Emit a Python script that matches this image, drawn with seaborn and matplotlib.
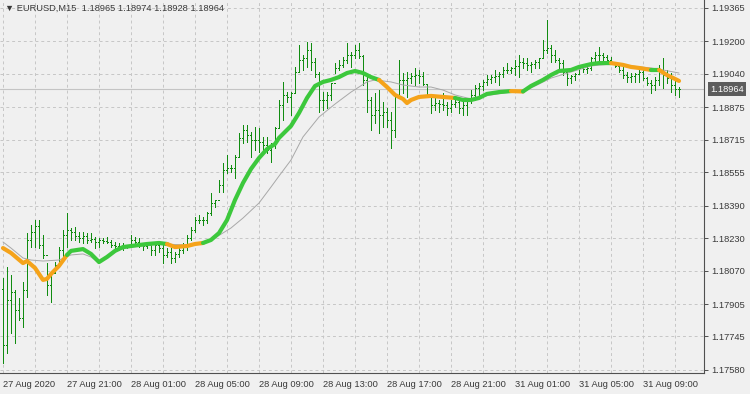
import numpy as np
import pandas as pd
import matplotlib
matplotlib.use("Agg")
import matplotlib.pyplot as plt
import seaborn as sns

# ---------------- data (EURUSD M15) ----------------
high = [
1.18033, 1.18088, 1.18048, 1.17974, 1.17935, 1.18014, 1.18255, 1.18295, 1.18319, 1.18319,
1.18245, 1.18107, 1.18058, 1.18112, 1.18186, 1.18270, 1.18354, 1.18280, 1.18285, 1.18260,
1.18260, 1.18255, 1.18255, 1.18236, 1.18231, 1.18231, 1.18236, 1.18221, 1.18211, 1.18206,
1.18206, 1.18196, 1.18245, 1.18236, 1.18231, 1.18206, 1.18211, 1.18206, 1.18211, 1.18211,
1.18206, 1.18181, 1.18181, 1.18162, 1.18181, 1.18206, 1.18245, 1.18285, 1.18334, 1.18344,
1.18334, 1.18359, 1.18453, 1.18418, 1.18517, 1.18600, 1.18640, 1.18591, 1.18640, 1.18748,
1.18788, 1.18788, 1.18753, 1.18778, 1.18773, 1.18729, 1.18729, 1.18699, 1.18778, 1.18911,
1.19000, 1.18950, 1.18950, 1.19074, 1.19182, 1.19133, 1.19197, 1.19192, 1.19118, 1.19049,
1.18950, 1.18950, 1.18995, 1.19093, 1.19108, 1.19123, 1.19192, 1.19148, 1.19182, 1.19192,
1.19133, 1.19024, 1.18926, 1.18945, 1.18960, 1.18901, 1.18872, 1.18852, 1.18945, 1.19108,
1.19044, 1.19049, 1.19044, 1.19069, 1.19059, 1.19049, 1.18985, 1.18936, 1.18921, 1.18911,
1.18945, 1.18901, 1.18911, 1.18926, 1.18921, 1.18911, 1.18921, 1.18960, 1.18985, 1.18995,
1.19010, 1.19034, 1.19034, 1.19059, 1.19049, 1.19074, 1.19093, 1.19074, 1.19108, 1.19133,
1.19118, 1.19118, 1.19098, 1.19108, 1.19118, 1.19207, 1.19305, 1.19182, 1.19158, 1.19118,
1.19108, 1.19059, 1.19034, 1.19044, 1.19084, 1.19084, 1.19074, 1.19123, 1.19148, 1.19172,
1.19143, 1.19133, 1.19123, 1.19098, 1.19084, 1.19074, 1.19049, 1.19044, 1.19044, 1.19059,
1.19069, 1.19024, 1.19010, 1.19024, 1.19084, 1.19118, 1.19059, 1.19044, 1.19019, 1.18974]

low = [
1.17614, 1.17664, 1.17762, 1.17713, 1.17826, 1.17792, 1.17940, 1.18186, 1.18186, 1.18181,
1.18132, 1.17950, 1.17915, 1.18058, 1.18107, 1.18137, 1.18186, 1.18221, 1.18221, 1.18211,
1.18206, 1.18206, 1.18211, 1.18181, 1.18186, 1.18206, 1.18206, 1.18186, 1.18181, 1.18171,
1.18171, 1.18181, 1.18186, 1.18196, 1.18186, 1.18171, 1.18181, 1.18147, 1.18147, 1.18162,
1.18107, 1.18137, 1.18107, 1.18112, 1.18137, 1.18157, 1.18171, 1.18221, 1.18260, 1.18305,
1.18295, 1.18305, 1.18344, 1.18384, 1.18457, 1.18457, 1.18551, 1.18556, 1.18527, 1.18630,
1.18699, 1.18704, 1.18630, 1.18665, 1.18655, 1.18665, 1.18650, 1.18605, 1.18674, 1.18778,
1.18812, 1.18901, 1.18837, 1.18950, 1.19049, 1.19059, 1.19074, 1.19059, 1.19024, 1.18852,
1.18862, 1.18872, 1.18911, 1.19044, 1.19059, 1.19074, 1.19093, 1.19074, 1.19118, 1.19118,
1.18985, 1.18852, 1.18763, 1.18798, 1.18748, 1.18778, 1.18778, 1.18674, 1.18729, 1.18926,
1.18945, 1.18926, 1.18995, 1.18985, 1.18995, 1.18985, 1.18926, 1.18847, 1.18862, 1.18852,
1.18862, 1.18837, 1.18852, 1.18876, 1.18847, 1.18837, 1.18837, 1.18896, 1.18911, 1.18936,
1.18960, 1.18985, 1.18995, 1.19000, 1.18985, 1.19024, 1.19044, 1.19044, 1.19034, 1.19024,
1.19069, 1.19059, 1.19049, 1.19069, 1.19069, 1.19118, 1.19143, 1.19098, 1.19098, 1.19069,
1.19034, 1.18985, 1.18995, 1.19010, 1.19044, 1.19049, 1.19044, 1.19059, 1.19093, 1.19108,
1.19098, 1.19093, 1.19093, 1.19074, 1.19049, 1.19019, 1.19000, 1.19000, 1.19000, 1.19000,
1.19010, 1.18985, 1.18945, 1.18960, 1.18985, 1.18970, 1.18995, 1.18950, 1.18936, 1.18928]

close = [
1.17703, 1.17925, 1.17964, 1.17876, 1.17836, 1.17974, 1.18221, 1.18260, 1.18290, 1.18196,
1.18147, 1.17999, 1.18058, 1.18098, 1.18171, 1.18245, 1.18270, 1.18260, 1.18240, 1.18231,
1.18240, 1.18221, 1.18226, 1.18211, 1.18221, 1.18216, 1.18211, 1.18196, 1.18191, 1.18186,
1.18191, 1.18191, 1.18221, 1.18211, 1.18196, 1.18191, 1.18196, 1.18171, 1.18196, 1.18181,
1.18147, 1.18162, 1.18132, 1.18152, 1.18171, 1.18196, 1.18231, 1.18270, 1.18319, 1.18319,
1.18319, 1.18354, 1.18403, 1.18418, 1.18492, 1.18566, 1.18576, 1.18576, 1.18630, 1.18724,
1.18763, 1.18738, 1.18714, 1.18714, 1.18704, 1.18689, 1.18665, 1.18689, 1.18773, 1.18886,
1.18936, 1.18926, 1.18945, 1.19049, 1.19108, 1.19118, 1.19158, 1.19098, 1.19039, 1.18911,
1.18911, 1.18936, 1.18995, 1.19069, 1.19084, 1.19108, 1.19133, 1.19133, 1.19158, 1.19128,
1.19010, 1.18911, 1.18837, 1.18862, 1.18837, 1.18852, 1.18812, 1.18763, 1.18936, 1.19010,
1.19010, 1.19019, 1.19029, 1.19034, 1.19029, 1.18990, 1.18936, 1.18886, 1.18896, 1.18891,
1.18886, 1.18872, 1.18891, 1.18901, 1.18872, 1.18886, 1.18911, 1.18936, 1.18970, 1.18980,
1.19000, 1.19015, 1.19024, 1.19029, 1.19039, 1.19059, 1.19059, 1.19069, 1.19079, 1.19098,
1.19093, 1.19084, 1.19088, 1.19098, 1.19118, 1.19158, 1.19167, 1.19133, 1.19108, 1.19093,
1.19049, 1.19019, 1.19029, 1.19039, 1.19069, 1.19064, 1.19069, 1.19118, 1.19133, 1.19133,
1.19123, 1.19108, 1.19098, 1.19079, 1.19059, 1.19034, 1.19024, 1.19029, 1.19039, 1.19049,
1.19019, 1.18995, 1.18985, 1.19010, 1.19059, 1.19034, 1.19019, 1.18985, 1.18965, 1.18964]

first_open = 1.17980

# thick coloured moving average (bar index, value)
ma_idx = [0, 2, 5, 6, 8, 10, 11, 12, 14, 16, 17, 20, 22, 24, 26, 28, 30, 32, 36, 39,
          41, 43, 46, 48, 50, 52, 54, 56, 58, 60, 62, 64, 66, 68, 69, 72, 74, 76, 78, 80,
          82, 84, 86, 88, 90, 92, 94, 96, 98, 100, 101, 102, 104, 107, 110, 113, 115, 117, 119, 121,
          124, 127, 130, 132, 135, 137, 139, 142, 144, 147, 149, 152, 155, 157, 159, 162, 164, 166, 168, 169]
ma_val = [1.18181, 1.18157, 1.18107, 1.18117, 1.18083, 1.18024, 1.18029, 1.18053, 1.18093, 1.18147,
          1.18167, 1.18176, 1.18152, 1.18112, 1.18137, 1.18167, 1.18186, 1.18191, 1.18201, 1.18206,
          1.18201, 1.18186, 1.18191, 1.18201, 1.18206, 1.18221, 1.18255, 1.18319, 1.18418, 1.18502,
          1.18571, 1.18625, 1.18669, 1.18694, 1.18724, 1.18783, 1.18847, 1.18921, 1.18980, 1.19000,
          1.19010, 1.19024, 1.19044, 1.19054, 1.19044, 1.19024, 1.19010, 1.18975, 1.18936, 1.18916,
          1.18896, 1.18911, 1.18926, 1.18931, 1.18926, 1.18921, 1.18911, 1.18911, 1.18921, 1.18941,
          1.18950, 1.18955, 1.18953, 1.18980, 1.19010, 1.19034, 1.19054, 1.19059, 1.19074, 1.19088,
          1.19093, 1.19093, 1.19084, 1.19074, 1.19069, 1.19059, 1.19059, 1.19034, 1.19015, 1.19005]
# bar-index spans where the thick average is drawn orange
orange_spans = [(0, 16), (41, 50), (94, 113), (127, 130), (152, 162), (164, 169)]

# thin grey (slow) moving average
gray_idx = [0, 2, 5, 7, 10, 14, 17, 20, 22, 24, 26, 28, 32, 40, 46, 50, 53, 57, 60, 64,
            67, 69, 72, 75, 79, 83, 87, 91, 93, 97, 100, 104, 107, 110, 113, 117, 122, 127, 132, 137,
            142, 147, 152, 157, 162, 165, 169]
gray_val = [1.18211, 1.18181, 1.18132, 1.18122, 1.18117, 1.18122, 1.18147, 1.18152, 1.18137, 1.18107,
            1.18137, 1.18167, 1.18186, 1.18201, 1.18196, 1.18206, 1.18231, 1.18280, 1.18329, 1.18403,
            1.18482, 1.18536, 1.18615, 1.18729, 1.18827, 1.18891, 1.18950, 1.19000, 1.19010, 1.19000,
            1.18985, 1.18975, 1.18975, 1.18960, 1.18936, 1.18916, 1.18936, 1.18950, 1.18970, 1.19019,
            1.19049, 1.19079, 1.19088, 1.19079, 1.19069, 1.19059, 1.19044]

price_ticks = [1.19365, 1.19200, 1.19040, 1.18875, 1.18715, 1.18555, 1.18390,
               1.18230, 1.18070, 1.17905, 1.17745, 1.17580]
time_tick_idx = [0, 16, 32, 48, 64, 80, 96, 112, 128, 144, 160]
time_labels = ["27 Aug 2020", "27 Aug 21:00", "28 Aug 01:00", "28 Aug 05:00",
               "28 Aug 09:00", "28 Aug 13:00", "28 Aug 17:00", "28 Aug 21:00",
               "31 Aug 01:00", "31 Aug 05:00", "31 Aug 09:00"]
title = "\u25bc EURUSD,M15  1.18965 1.18974 1.18928 1.18964"
last_price = 1.18964

# ---------------- drawing ----------------
sns.set_style("white")
plt.rcParams['font.family'] = ['Liberation Sans', 'DejaVu Sans']

BG = '#f0f0f0'
BAR = '#118c11'
GREEN = '#3cc83c'
ORANGE = '#f5a31a'
TXT = '#3a3a3a'
FS = 6.7

W, H = 750, 394
fig = plt.figure(figsize=(W / 100, H / 100), dpi=100, facecolor=BG)
ax = fig.add_axes([0, 21 / H, 704 / W, 373 / H], facecolor=BG)

n = len(close)
idx = np.arange(n)
opens = np.array([first_open] + close[:-1])

ax.set_xlim(-0.75, 175.25)
ax.set_ylim(1.17565, 1.19404)

# grid
ax.set_yticks(price_ticks)
ax.set_yticklabels([f"{p:.5f}" for p in price_ticks])
ax.set_xticks(time_tick_idx)
ax.set_xticklabels(time_labels, ha='left')
ax.set_xticks([t + 8 for t in time_tick_idx], minor=True)
ax.grid(True, which='both', color='#c6c6c6', ls=(0, (3, 3)), lw=0.7)
ax.set_axisbelow(True)

# current price line
ax.axhline(last_price, color='#c4c4c4', lw=0.8, zorder=1)

# OHLC bars (crisp 1 px)
LW = 0.45
ax.vlines(idx, low, high, color=BAR, lw=LW, antialiased=False, zorder=2)
ax.hlines(opens, idx - 0.3, idx, color=BAR, lw=LW, antialiased=False, zorder=2)
ax.hlines(close, idx, idx + 0.3, color=BAR, lw=LW, antialiased=False, zorder=2)

# slow grey average
sns.lineplot(x=gray_idx, y=gray_val, ax=ax, color='#a8a8a8', lw=0.7,
             sort=False, estimator=None, zorder=3)

# thick coloured average, split into runs of one colour
def is_orange(m):
    return any(s <= m <= e for s, e in orange_spans)

cols = [ORANGE if is_orange((ma_idx[k] + ma_idx[k + 1]) / 2) else GREEN
        for k in range(len(ma_idx) - 1)]
start = 0
for k in range(1, len(cols) + 1):
    if k == len(cols) or cols[k] != cols[start]:
        xs = ma_idx[start:k + 1]
        ys = ma_val[start:k + 1]
        sns.lineplot(x=xs, y=ys, ax=ax, color=cols[start], lw=3.0, sort=False,
                     estimator=None, solid_capstyle='round', solid_joinstyle='round',
                     zorder=4)
        start = k

# axes styling
for s in ['left', 'top']:
    ax.spines[s].set_visible(False)
for s in ['right', 'bottom']:
    ax.spines[s].set_color('#505050')
    ax.spines[s].set_linewidth(0.8)
ax.yaxis.tick_right()
ax.tick_params(axis='y', which='major', direction='out', length=3, width=0.7,
               color='#505050', labelsize=FS, labelcolor=TXT, pad=2)
ax.tick_params(axis='x', which='major', direction='out', length=3, width=0.7,
               color='#505050', labelsize=FS, labelcolor=TXT, pad=2)
ax.tick_params(axis='x', which='minor', length=0)
ax.set_xlabel('')
ax.set_ylabel('')

# last price box
ax.text(1.0 + 6 / 704, last_price, f"{last_price:.5f}", transform=ax.get_yaxis_transform(),
        ha='left', va='center', fontsize=FS, color='white', zorder=6, clip_on=False,
        bbox=dict(boxstyle='square,pad=0.25', facecolor='#5c5c5c', edgecolor='none'))

# title
ax.text(5 / 704, 1 - 8 / 373, title, transform=ax.transAxes, ha='left', va='center',
        fontsize=FS, color=TXT, zorder=6)

fig.savefig('out.png', dpi=100, facecolor=BG)
